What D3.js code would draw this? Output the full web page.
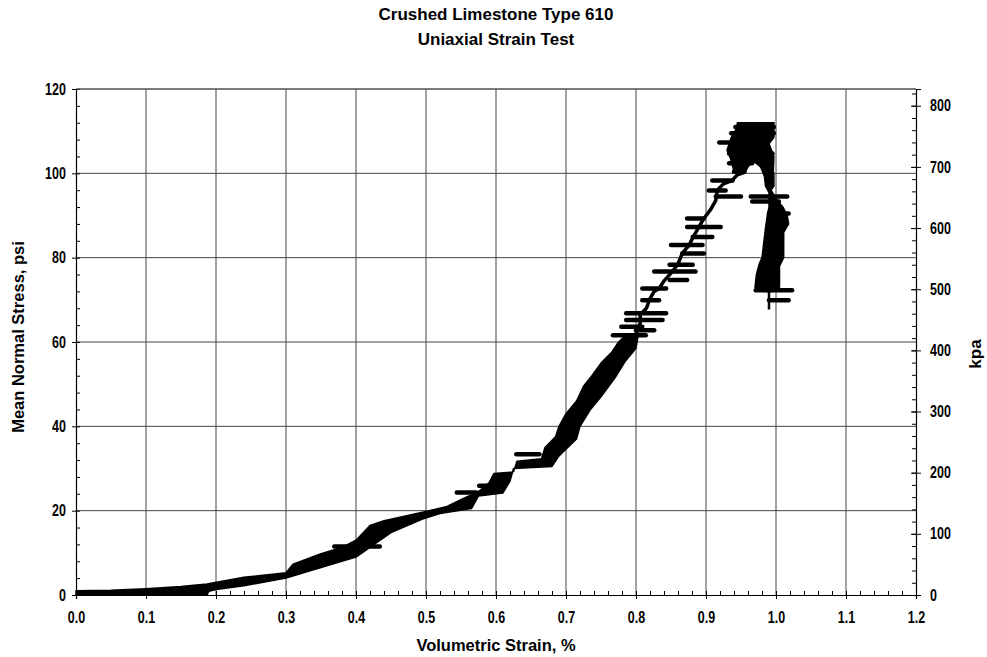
<!DOCTYPE html>
<html><head><meta charset="utf-8">
<script src="https://cdn.jsdelivr.net/npm/d3@7"></script>
<style>
html,body{margin:0;padding:0;background:#fff;}
text{font-family:"Liberation Sans",Arial,Helvetica,sans-serif;font-weight:bold;fill:#000;}
</style></head>
<body><svg id="c" width="987" height="657"></svg>
<script>
// ---------- data ----------
const titleLines = ["Crushed Limestone Type 610", "Uniaxial Strain Test"];
const xTitle = "Volumetric Strain, %";
const yTitle = "Mean Normal Stress, psi";
const y2Title = "kpa";
const xTicks = [0.0,0.1,0.2,0.3,0.4,0.5,0.6,0.7,0.8,0.9,1.0,1.1,1.2];
const yTicks = [0,20,40,60,80,100,120];
const kpaTicks = [0,100,200,300,400,500,600,700,800];
const PSI_TO_KPA = 6.894757;

// loading band: upper/left edge (strain %, psi)
const bandUpper = [
 [0.000,1.0],[0.050,1.1],[0.100,1.5],[0.150,2.0],[0.187,2.6],[0.240,4.2],[0.300,5.3],
 [0.310,7.3],[0.350,9.8],[0.380,11.3],[0.400,13.0],[0.420,16.5],[0.440,17.6],[0.495,19.6],
 [0.530,21.0],[0.555,23.0],[0.575,24.5],[0.590,26.6],[0.597,28.8],[0.625,29.2],[0.630,31.7],
 [0.665,32.3],[0.670,35.0],[0.685,37.5],[0.690,40.0],[0.700,43.0],[0.715,46.0],[0.725,49.5],
 [0.737,52.0],[0.750,55.0],[0.765,57.5],[0.775,60.0],[0.785,61.5]
];
// loading band: lower/right edge (strain %, psi)
const bandLower = [
 [0.000,0.0],[0.187,0.0],[0.190,0.9],[0.200,1.3],[0.240,2.2],[0.300,4.0],[0.350,6.5],
 [0.400,9.0],[0.430,12.5],[0.450,14.8],[0.495,18.0],[0.520,19.3],[0.565,20.5],[0.575,23.5],
 [0.610,24.2],[0.620,27.0],[0.625,30.0],[0.680,30.5],[0.690,33.0],[0.715,37.0],[0.720,40.0],
 [0.735,44.0],[0.750,47.0],[0.770,51.5],[0.785,55.5],[0.800,58.5],[0.803,61.5]
];
// thin trace above the band (strain %, psi)
const coreTrace = [
 [0.790,60.0],[0.800,62.0],[0.806,64.5],[0.806,66.5],[0.815,68.0],[0.819,70.0],[0.826,72.0],
 [0.833,72.7],[0.840,74.5],[0.852,76.7],[0.860,78.5],[0.866,81.0],[0.876,83.0],[0.882,85.0],
 [0.890,87.3],[0.897,89.3],[0.907,91.5],[0.914,93.6],[0.916,96.0],[0.925,97.5],[0.937,98.3],
 [0.947,100.0]
];
// peak cluster outline (strain %, psi)
const peakBlob = [
 [0.940,100.5],[0.935,103.5],[0.930,105.5],[0.936,108.5],[0.943,110.5],[0.945,112.0],
 [0.997,112.0],[0.997,108.5],[0.990,107.0],[0.997,104.0],[0.996,100.0],[0.990,98.0],
 [0.983,99.5],[0.978,101.5],[0.967,103.0],[0.960,101.5],[0.955,100.0],[0.947,99.5]
];
// unloading branch outline (strain %, psi)
const unloadLeft = [
 [0.983,100],[0.985,97],[0.990,95.5],[0.990,92],[0.988,90.5],[0.985,87],[0.980,80],
 [0.976,78.5],[0.972,76],[0.970,73],[0.985,72]
];
const unloadRight = [
 [0.997,100],[0.997,97],[0.993,96],[1.000,94],[1.010,92],[1.016,90],[1.018,88],
 [1.011,86],[1.011,80],[1.005,78],[1.005,73],[0.995,72]
];
const unloadTail = [[0.990,72],[0.990,67.7]];
// horizontal excursions: [psi, strain from, strain to]
const streaks = [
 [11.5,0.369,0.434],[24.3,0.544,0.572],[25.9,0.576,0.610],[33.4,0.629,0.662],
 [61.6,0.767,0.814],[62.8,0.800,0.826],[63.6,0.779,0.809],[65.2,0.786,0.838],[66.8,0.786,0.843],
 [69.9,0.809,0.833],[72.7,0.809,0.843],[74.7,0.848,0.873],[76.7,0.826,0.885],[78.3,0.848,0.881],
 [81.0,0.866,0.897],[83.0,0.850,0.895],[84.9,0.881,0.909],[87.3,0.873,0.921],[89.3,0.873,0.897],
 [94.5,0.914,0.950],[95.9,0.904,0.928],[98.3,0.909,0.938],
 [100.4,0.940,0.955],[102.4,0.933,0.966],[104.7,0.933,0.995],[107.3,0.919,0.985],[109.5,0.936,0.997],[111.0,0.942,0.997],
 [94.5,0.964,1.016],[93.3,0.966,1.004],[90.5,0.990,1.018],[72.3,0.971,1.023],[69.9,0.990,1.018]
];

// ---------- drawing ----------
const svg = d3.select("#c");
const L = 76, R = 916, T = 89, B = 595;
const x = d3.scaleLinear().domain([0,1.2]).range([L,R]);
const y = d3.scaleLinear().domain([0,120]).range([B,T]);
const yk = d3.scaleLinear().domain([0,120*PSI_TO_KPA]).range([B,T]);
const SQ = 0.78; // horizontal condensing of tick labels

// grid
const grid = svg.append("g");
grid.selectAll("line.v").data(xTicks.slice(1,-1)).enter().append("line")
  .attr("x1",d=>x(d)).attr("x2",d=>x(d)).attr("y1",T).attr("y2",B)
  .attr("stroke","#444").attr("stroke-width",1);
grid.selectAll("line.h").data(yTicks.slice(1)).enter().append("line")
  .attr("x1",L).attr("x2",R).attr("y1",d=>y(d)).attr("y2",d=>y(d))
  .attr("stroke","#444").attr("stroke-width",1);

// axes
const minorX = d3.range(0,1.2001,0.02);
const minorY = d3.range(0,120.001,4);
const minorK = d3.range(0,821,20);

svg.append("g").attr("transform",`translate(0,${B})`)
  .call(d3.axisBottom(x).tickValues(xTicks).tickFormat(d3.format(".1f")).tickSize(4).tickPadding(13));
svg.append("g").attr("transform",`translate(0,${B})`)
  .call(d3.axisBottom(x).tickValues(minorX).tickFormat("").tickSize(-4)).select(".domain").remove();

svg.append("g").attr("transform",`translate(${L},0)`)
  .call(d3.axisLeft(y).tickValues(yTicks).tickSize(4).tickPadding(9));
svg.append("g").attr("transform",`translate(${L},0)`)
  .call(d3.axisLeft(y).tickValues(minorY).tickFormat("").tickSize(-4)).select(".domain").remove();

const gk = svg.append("g").attr("transform",`translate(${R},0)`)
  .call(d3.axisRight(yk).tickValues(kpaTicks).tickSize(5).tickPadding(13));
gk.selectAll(".tick line").attr("x1",-5);
svg.append("g").attr("transform",`translate(${R},0)`)
  .call(d3.axisRight(yk).tickValues(minorK).tickFormat("").tickSize(-4)).select(".domain").remove();

svg.selectAll(".domain").attr("stroke","#000").attr("stroke-width",1.2);
svg.selectAll(".tick line").attr("stroke","#000");
svg.selectAll("g").attr("font-family",null).attr("font-size",null);
svg.selectAll(".tick text").style("font-size","16px").attr("fill","#000")
  .attr("transform",`scale(${SQ},1)`);

// top frame
svg.append("line").attr("x1",L).attr("x2",R).attr("y1",T).attr("y2",T).attr("stroke","#555");

// data marks
const line = d3.line().x(d=>x(d[0])).y(d=>y(d[1]));
svg.append("path").attr("d", line(bandUpper.concat(bandLower.slice().reverse())) + "Z")
  .attr("fill","#000").attr("stroke","#000").attr("stroke-width",1.5).attr("stroke-linejoin","round");
svg.append("path").attr("d", line(coreTrace)).attr("fill","none").attr("stroke","#000")
  .attr("stroke-width",3.5).attr("stroke-linejoin","round");
svg.append("path").attr("d", line(peakBlob)+"Z").attr("fill","#000").attr("stroke","#000").attr("stroke-width",1.5);
svg.append("path").attr("d", line(unloadLeft.concat(unloadRight.slice().reverse()))+"Z")
  .attr("fill","#000").attr("stroke","#000").attr("stroke-width",1.5);
svg.append("path").attr("d", line(unloadTail)).attr("fill","none").attr("stroke","#000").attr("stroke-width",2.5);
svg.append("g").selectAll("line").data(streaks).enter().append("line")
  .attr("x1",d=>x(d[1])).attr("x2",d=>x(d[2])).attr("y1",d=>y(d[0])).attr("y2",d=>y(d[0]))
  .attr("stroke","#000").attr("stroke-width",4.5).attr("stroke-linecap","round");

// titles
svg.append("text").attr("x",496).attr("y",20).attr("text-anchor","middle").style("font-size","17px").text(titleLines[0]);
svg.append("text").attr("x",496).attr("y",45).attr("text-anchor","middle").style("font-size","17px").text(titleLines[1]);
svg.append("text").attr("x",496).attr("y",651).attr("text-anchor","middle").style("font-size","16.5px").text(xTitle);
svg.append("text").attr("transform","translate(24,337) rotate(-90)").attr("text-anchor","middle").style("font-size","16.5px").text(yTitle);
svg.append("text").attr("transform","translate(981,354) rotate(-90)").attr("text-anchor","middle").style("font-size","17px").text(y2Title);
</script></body></html>
